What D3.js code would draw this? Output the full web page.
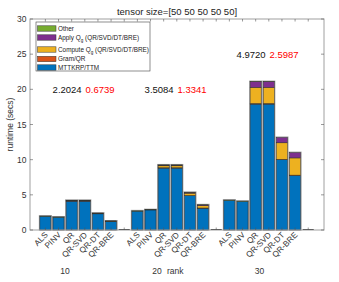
<!DOCTYPE html>
<html>
<head>
<meta charset="utf-8">
<script src="https://cdn.jsdelivr.net/npm/d3@7"></script>
<style>
  body { margin: 0; background: #fff; }
  text { font-family: "Liberation Sans", Arial, sans-serif; }
</style>
</head>
<body>
<div id="chart"></div>
<script>
// ranks and methods
var ranks = ["10", "20", "30"];
var methods = ["ALS", "PINV", "QR", "QR-SVD", "QR-DT", "QR-BRE"];

// runtime parts (secs), order: ALS, PINV, QR, QR-SVD, QR-DT, QR-BRE for each rank
var mttkrp  = [1.95, 1.82, 4.10, 4.10, 2.30, 1.20,   2.68, 2.85, 8.80, 8.80, 4.87, 3.10,   4.20, 4.05, 17.90, 17.90, 10.00, 7.75];
var gram    = [0.00, 0.00, 0.03, 0.03, 0.02, 0.02,   0.00, 0.00, 0.05, 0.05, 0.04, 0.03,   0.00, 0.00, 0.08, 0.08, 0.05, 0.05];
var computeQ= [0.00, 0.00, 0.06, 0.06, 0.05, 0.04,   0.00, 0.00, 0.28, 0.28, 0.33, 0.33,   0.00, 0.00, 2.30, 2.30, 2.35, 2.45];
var applyQ  = [0.00, 0.00, 0.02, 0.02, 0.02, 0.01,   0.00, 0.00, 0.10, 0.10, 0.09, 0.10,   0.00, 0.00, 0.80, 0.80, 0.75, 0.75];
var other   = [0.03, 0.03, 0.01, 0.01, 0.01, 0.01,   0.04, 0.04, 0.02, 0.02, 0.02, 0.02,   0.05, 0.05, 0.02, 0.02, 0.00, 0.00];

var partNames = ["MTTKRP/TTM", "Gram/QR", "Compute Q", "Apply Q", "Other"];
var partColors = ["#0072BD", "#D95319", "#EDB120", "#7E2F8E", "#77AC30"];

// annotation numbers per rank
var annoBlack = ["2.2024", "3.5084", "4.9720"];
var annoRed   = ["0.6739", "1.3341", "2.5987"];
var annoY     = [20, 20, 25];

var yTicks = [0, 5, 10, 15, 20, 25, 30];

var W = 339, H = 282;
var mLeft = 30, mRight = 324, mTop = 19, mBottom = 230;

var svg = d3.select("#chart").append("svg")
    .attr("width", W).attr("height", H);

var x = d3.scaleLinear().domain([-1.17, 21.2]).range([mLeft, mRight]);
var y = d3.scaleLinear().domain([0, 30]).range([mBottom, mTop]);
var bw = x(0.84) - x(0);

// build stacked rows
var bars = [];
ranks.forEach(function(r, g) {
  methods.forEach(function(m, k) {
    var i = g * 6 + k;
    var vals = [mttkrp[i], gram[i], computeQ[i], applyQ[i], other[i]];
    var acc = 0;
    var segs = vals.map(function(v, p) {
      var s = {y0: acc, y1: acc + v, part: p};
      acc += v;
      return s;
    });
    bars.push({slot: g * 7 + k, total: acc, segs: segs});
  });
});

// title
svg.append("text")
    .attr("x", 177).attr("y", 14.5)
    .attr("text-anchor", "middle")
    .style("font-size", "9.5px").style("fill", "#222")
    .text("tensor size=[50 50 50 50 50]");

// bars
var gb = svg.append("g");
bars.forEach(function(b) {
  var bx = x(b.slot) - bw / 2;
  gb.append("rect")
      .attr("x", bx - 0.5).attr("y", y(b.total) - 0.5)
      .attr("width", bw + 1).attr("height", y(0) - y(b.total) + 0.5)
      .attr("fill", "none").attr("stroke", "#999").attr("stroke-width", 1);
  b.segs.forEach(function(s) {
    if (s.y1 - s.y0 <= 0) return;
    gb.append("rect")
        .attr("x", bx).attr("y", y(s.y1))
        .attr("width", bw).attr("height", y(s.y0) - y(s.y1))
        .attr("fill", partColors[s.part])
        .attr("stroke", "#2a2a2a").attr("stroke-width", 0.5);
  });
});
// empty slots (zero bars)
ranks.forEach(function(r, g) {
  gb.append("line")
      .attr("x1", x(g * 7 + 6) - bw / 2).attr("x2", x(g * 7 + 6) + bw / 2)
      .attr("y1", y(0) - 0.5).attr("y2", y(0) - 0.5)
      .attr("stroke", "#222").attr("stroke-width", 1);
});

// axes box
var axColor = "#a0a0a0";
svg.append("rect")
    .attr("x", mLeft).attr("y", mTop)
    .attr("width", mRight - mLeft).attr("height", mBottom - mTop)
    .attr("fill", "none").attr("stroke", axColor).attr("stroke-width", 1);

// y ticks
yTicks.forEach(function(t) {
  svg.append("line").attr("x1", mLeft).attr("x2", mLeft + 3)
      .attr("y1", y(t)).attr("y2", y(t)).attr("stroke", "#555").attr("stroke-width", 0.6);
  svg.append("line").attr("x1", mRight).attr("x2", mRight - 3)
      .attr("y1", y(t)).attr("y2", y(t)).attr("stroke", "#555").attr("stroke-width", 0.6);
  svg.append("text").attr("x", 26.5).attr("y", y(t) + 3)
      .attr("text-anchor", "end")
      .style("font-size", "8.5px").style("fill", "#333")
      .text(t);
});

// x ticks and labels
d3.range(21).forEach(function(i) {
  svg.append("line").attr("x1", x(i)).attr("x2", x(i))
      .attr("y1", mBottom).attr("y2", mBottom - 2.5).attr("stroke", "#555").attr("stroke-width", 0.6);
  svg.append("line").attr("x1", x(i)).attr("x2", x(i))
      .attr("y1", mTop).attr("y2", mTop + 2.5).attr("stroke", "#555").attr("stroke-width", 0.6);
});
bars.forEach(function(b, i) {
  var lx = x(b.slot) + 3, ly = mBottom + 5.5;
  svg.append("text")
      .attr("transform", "translate(" + lx + "," + ly + ") rotate(-45)")
      .attr("text-anchor", "end")
      .style("font-size", "8.2px").style("fill", "#333")
      .text(methods[i % 6]);
});

// group labels
var groupPos = [1.5, 8.5, 16.3];
ranks.forEach(function(r, g) {
  svg.append("text").attr("x", x(groupPos[g])).attr("y", 274)
      .attr("text-anchor", "middle")
      .style("font-size", "8.5px").style("fill", "#333")
      .text(r);
});
svg.append("text").attr("x", 167).attr("y", 274)
    .style("font-size", "8.5px").style("fill", "#333")
    .text("rank");

// y label
svg.append("text")
    .attr("transform", "translate(13," + ((mTop + mBottom) / 2) + ") rotate(-90)")
    .attr("text-anchor", "middle")
    .style("font-size", "8.5px").style("fill", "#333")
    .text("runtime (secs)");

// annotations
ranks.forEach(function(r, g) {
  svg.append("text").attr("x", x(g * 7 + 0.55)).attr("y", y(annoY[g]) + 3.4)
      .style("font-size", "9.5px").style("fill", "#111")
      .text(annoBlack[g]);
  svg.append("text").attr("x", x(g * 7 + 3.05)).attr("y", y(annoY[g]) + 3.4)
      .style("font-size", "9.5px").style("fill", "#ff0000")
      .text(annoRed[g]);
});

// legend
var lg = svg.append("g");
lg.append("rect").attr("x", 36).attr("y", 22).attr("width", 114).attr("height", 49)
    .attr("fill", "#fff").attr("stroke", "#444").attr("stroke-width", 0.6);
var legendOrder = [4, 3, 2, 1, 0];
var rowY = [28.5, 37.5, 49.5, 59, 67.5];
legendOrder.forEach(function(p, r) {
  lg.append("rect").attr("x", 37.5).attr("y", rowY[r] - 2.7)
      .attr("width", 18.5).attr("height", 5.4)
      .attr("fill", partColors[p]).attr("stroke", "#333").attr("stroke-width", 0.5);
  var t = lg.append("text").attr("x", 58).attr("y", rowY[r] + 2.2)
      .style("font-size", "6.4px").style("fill", "#222");
  if (p === 2 || p === 3) {
    t.append("tspan").text(partNames[p]);
    t.append("tspan").attr("dy", 1.8).style("font-size", "4.6px").text("g");
    t.append("tspan").attr("dy", -1.8).text(" (QR/SVD/DT/BRE)");
  } else {
    t.text(partNames[p]);
  }
});
</script>
</body>
</html>
